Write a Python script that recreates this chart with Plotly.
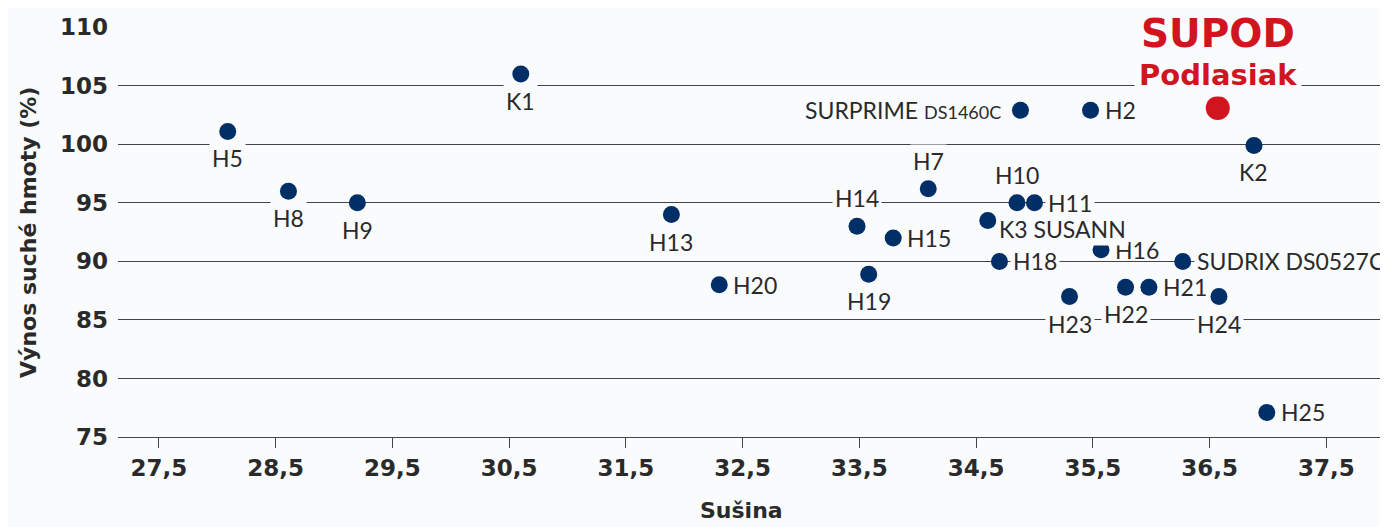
import plotly.graph_objects as go

# ---- data ----
names = ["H5", "H8", "H9", "K1", "H13", "H20", "H19", "H14", "H15", "H7",
         "H18", "H10", "H11", "SURPRIME DS1460C", "H2", "K2", "H16",
         "SUDRIX DS0527C", "H23", "H22", "H21", "H24", "H25", "K3 SUSANN"]
susina = [28.09, 28.61, 29.20, 30.60, 31.89, 32.30, 33.58, 33.48, 33.79, 34.09,
          34.70, 34.85, 35.00, 34.88, 35.48, 36.88, 35.57,
          36.27, 35.30, 35.78, 35.98, 36.58, 36.99, 34.60]
vynos = [101.1, 96.0, 95.0, 106.0, 94.0, 88.0, 88.9, 93.0, 92.0, 96.2,
         90.0, 95.0, 95.0, 102.9, 102.9, 99.9, 91.0,
         90.0, 87.0, 87.8, 87.8, 87.0, 77.1, 93.5]
label_pos = ["below", "below", "below", "below", "below", "right", "below", "above", "right", "above",
             "right", "above", "right", "left", "right", "below", "right-clear",
             "right", "below", "below", "right", "below", "right", "right-low"]

hero_name = ["SUPOD", "Podlasiak"]
hero_x = [36.57]
hero_y = [103.1]

x_ticks = [27.5, 28.5, 29.5, 30.5, 31.5, 32.5, 33.5, 34.5, 35.5, 36.5, 37.5]
x_ticktext = ["27,5", "28,5", "29,5", "30,5", "31,5", "32,5", "33,5", "34,5", "35,5", "36,5", "37,5"]
y_ticks = [75, 80, 85, 90, 95, 100, 105, 110]

x_title = "Sušina"
y_title = "Výnos suché hmoty (%)"

# ---- style ----
BG = "#f9fbfd"
NAVY = "#002e66"
RED = "#d0151f"
GRID = "#444444"
TXT = "#2a2a2a"
LABEL_FONT = "Lato"
LABEL_SIZE = 23
BOLD_FONT = "DejaVu Sans"

fig = go.Figure()
fig.add_trace(go.Scatter(
    x=susina, y=vynos, mode="markers",
    marker=dict(size=17, color=NAVY, line=dict(width=0)),
    cliponaxis=False, hoverinfo="skip", showlegend=False))
fig.add_trace(go.Scatter(
    x=hero_x, y=hero_y, mode="markers",
    marker=dict(size=24, color=RED, line=dict(width=0)),
    cliponaxis=False, hoverinfo="skip", showlegend=False))

for n, xv, yv, p in zip(names, susina, vynos, label_pos):
    text = n
    if n.startswith("SURPRIME"):
        a, b = n.split(" ")
        text = a + " <span style='font-size:18px'>" + b + "</span>"
    kw = dict(x=xv, y=yv, text=text, showarrow=False, bgcolor=BG, borderpad=2,
              font=dict(family=LABEL_FONT, size=LABEL_SIZE, color=TXT))
    if p == "below":
        kw.update(xanchor="center", yanchor="middle", yshift=-27)
    elif p == "above":
        kw.update(xanchor="center", yanchor="middle", yshift=28)
    elif p == "right":
        kw.update(xanchor="left", yanchor="middle", xshift=11)
    elif p == "right-clear":
        kw.update(xanchor="left", yanchor="middle", xshift=11, bgcolor="rgba(0,0,0,0)")
    elif p == "right-low":
        kw.update(xanchor="left", yanchor="middle", xshift=8, yshift=-9)
    elif p == "left":
        kw.update(xanchor="right", yanchor="middle", xshift=-16)
    fig.add_annotation(**kw)

fig.add_annotation(x=hero_x[0], y=hero_y[0], text="<b>" + hero_name[0] + "</b>", showarrow=False,
                   xanchor="center", yanchor="middle", yshift=75, bgcolor=BG, borderpad=4,
                   font=dict(family=BOLD_FONT, size=39, color=RED))
fig.add_annotation(x=hero_x[0], y=hero_y[0], text="<b>" + hero_name[1] + "</b>", showarrow=False,
                   xanchor="center", yanchor="middle", yshift=33, bgcolor=BG, borderpad=4,
                   font=dict(family=BOLD_FONT, size=29, color=RED))

# axis titles as annotations
fig.add_annotation(xref="paper", yref="paper", x=-0.0709, y=0.5, text="<b>" + y_title + "</b>",
                   textangle=-90, showarrow=False, xanchor="center", yanchor="middle",
                   font=dict(family=BOLD_FONT, size=22, color=TXT))
fig.add_annotation(xref="paper", yref="paper", x=0.491, y=-0.145, text="<b>" + x_title + "</b>",
                   showarrow=False, xanchor="center", yanchor="top",
                   font=dict(family=BOLD_FONT, size=22, color=TXT))

fig.update_xaxes(range=[27.15, 38.028], tickvals=x_ticks, ticktext=x_ticktext,
                 showgrid=False, zeroline=False, showline=True, linecolor=GRID, linewidth=1.3,
                 ticks="outside", ticklen=10, tickwidth=1.3, tickcolor=GRID,
                 tickfont=dict(family=BOLD_FONT, size=23, color=TXT, weight="bold"))
fig.update_yaxes(range=[75, 110.02], tickvals=y_ticks, showgrid=True, gridcolor=GRID, gridwidth=1.3,
                 zeroline=False, showline=False, ticks="", ticklabelstandoff=9,
                 tickfont=dict(family=BOLD_FONT, size=23, color=TXT, weight="bold"))

# page body has an 8px margin, so the figure is 8px smaller and margins shifted
fig.update_layout(width=1380, height=519, margin=dict(l=110, r=0, t=19, b=90),
                  paper_bgcolor=BG, plot_bgcolor=BG, showlegend=False)

fig.write_html("out.html")
